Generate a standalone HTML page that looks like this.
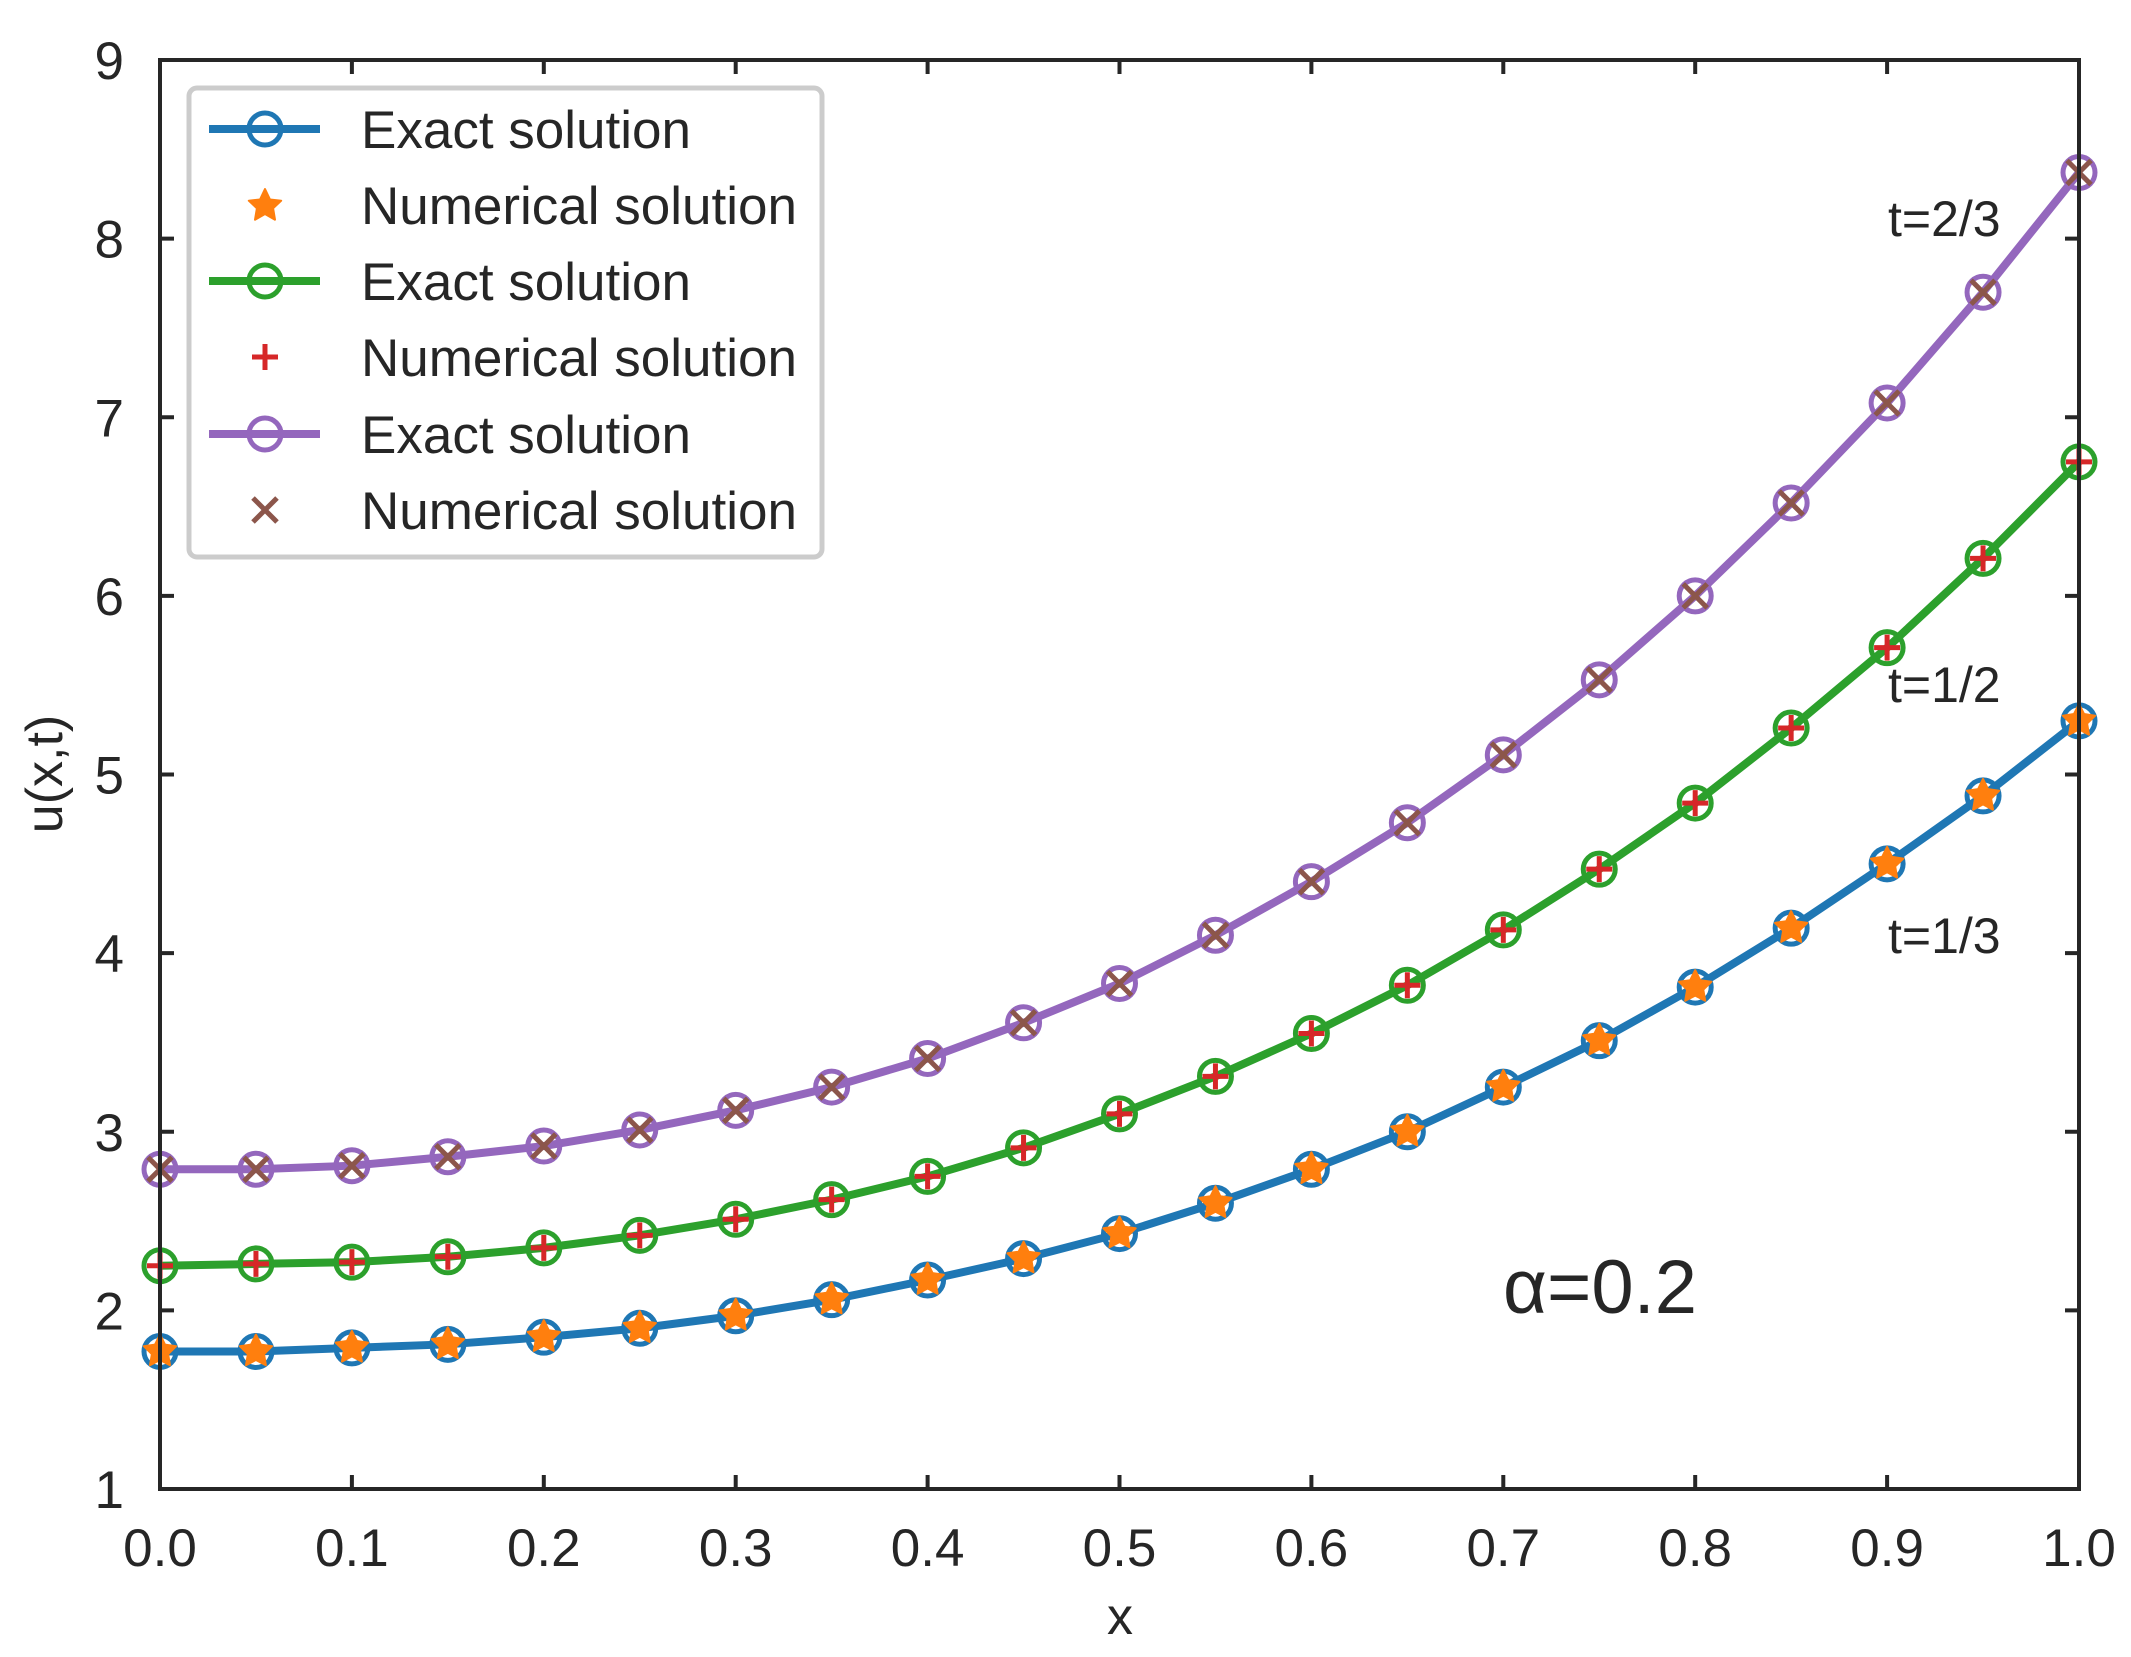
<!DOCTYPE html>
<html><head><meta charset="utf-8"><style>
html,body{margin:0;padding:0;background:#fff;}
svg{display:block;font-family:"Liberation Sans",Arial,sans-serif;}
</style></head><body>
<svg id="chart" width="2131" height="1657" viewBox="0 0 2131 1657" xmlns="http://www.w3.org/2000/svg">
<g id="marks"></g>
<g id="axes"></g>
</svg>
<script>
const xValues=[0,0.05,0.1,0.15,0.2,0.25,0.3,0.35,0.4,0.45,0.5,0.55,0.6,0.65,0.7,0.75,0.8,0.85,0.9,0.95,1.0];
const seriesT13=[1.77,1.77,1.79,1.81,1.85,1.90,1.97,2.06,2.17,2.29,2.43,2.60,2.79,3.00,3.25,3.51,3.81,4.14,4.50,4.88,5.30];
const seriesT12=[2.25,2.26,2.27,2.30,2.35,2.42,2.51,2.62,2.75,2.91,3.10,3.31,3.55,3.82,4.13,4.47,4.84,5.26,5.71,6.21,6.75];
const seriesT23=[2.79,2.79,2.81,2.86,2.92,3.01,3.12,3.25,3.41,3.61,3.83,4.10,4.40,4.73,5.11,5.53,6.00,6.52,7.08,7.70,8.37];
const xTicks=[0,0.1,0.2,0.3,0.4,0.5,0.6,0.7,0.8,0.9,1.0];
const xTickLabels=["0.0","0.1","0.2","0.3","0.4","0.5","0.6","0.7","0.8","0.9","1.0"];
const yTicks=[1,2,3,4,5,6,7,8,9];
const yTickLabels=["1","2","3","4","5","6","7","8","9"];

const L=160,R=2079,T=60,B=1489;
const sx=v=>L+(v-0)/(1-0)*(R-L);
const sy=v=>B-(v-1)/(9-1)*(B-T);
const NS="http://www.w3.org/2000/svg";
const marks=document.getElementById('marks'), axes=document.getElementById('axes');
function mk(tag,attrs,parent){const e=document.createElementNS(NS,tag);for(const k in attrs)e.setAttribute(k,attrs[k]);parent.appendChild(e);return e;}
function starPts(cx,cy,r){let p=[];for(let i=0;i<10;i++){const a=-Math.PI/2+i*Math.PI/5;const rr=i%2?r*0.5:r;p.push((cx+rr*Math.cos(a)).toFixed(1)+','+(cy+rr*Math.sin(a)).toFixed(1));}return p.join(' ');}
function drawNum(g,kind,cx,cy,col){
 if(kind==='star'){const s=mk('polygon',{points:starPts(cx,cy,17),fill:col,stroke:col,'stroke-width':2,'stroke-linejoin':'round'},g);}
 else if(kind==='plus'){const s=mk('path',{d:`M${cx-13},${cy}H${cx+13}M${cx},${cy-13}V${cy+13}`,stroke:col,'stroke-width':5,fill:'none'},g);}
 else {const s=mk('path',{d:`M${cx-12},${cy-12}L${cx+12},${cy+12}M${cx-12},${cy+12}L${cx+12},${cy-12}`,stroke:col,'stroke-width':5,fill:'none'},g);}
}
const series=[[seriesT13,'#1f77b4','#ff7f0e','star','t-1-3'],[seriesT12,'#2ca02c','#d62728','plus','t-1-2'],[seriesT23,'#9467bd','#8c564b','cross','t-2-3']];
series.forEach(([vals,lc,mc,kind,nm])=>{
 const g=mk('g',{},marks);
 
 
 const pl=mk('polyline',{points:vals.map((v,i)=>sx(xValues[i])+','+sy(v)).join(' '),fill:'none',stroke:lc,'stroke-width':8,'stroke-linejoin':'round'},g);
 
 
 vals.forEach((v,i)=>{const c=mk('circle',{cx:sx(xValues[i]),cy:sy(v),r:16,fill:'none',stroke:lc,'stroke-width':5},g);
  
  });
 vals.forEach((v,i)=>drawNum(g,kind,sx(xValues[i]),sy(v),mc));
});
const fr=mk('rect',{x:L,y:T,width:R-L,height:B-T,fill:'none',stroke:'#262626','stroke-width':4},axes);


xTicks.forEach((v,i)=>{
 mk('path',{d:`M${sx(v)},${B}V${B-14}M${sx(v)},${T}V${T+14}`,stroke:'#262626','stroke-width':4},axes);
 const t=mk('text',{x:sx(v),y:1566,'font-size':53,'text-anchor':'middle',fill:'#262626'},axes);t.textContent=xTickLabels[i];
 
 
});
yTicks.forEach((v,i)=>{
 mk('path',{d:`M${L},${sy(v)}H${L+14}M${R},${sy(v)}H${R-14}`,stroke:'#262626','stroke-width':4},axes);
 const t=mk('text',{x:124,y:sy(v)+19,'font-size':53,'text-anchor':'end',fill:'#262626'},axes);t.textContent=yTickLabels[i];
 
 
});
</script>
<svg style="position:absolute;left:0;top:0" width="2131" height="1657">
<text x="1120" y="1634" font-size="52" text-anchor="middle" fill="#262626" font-family="Liberation Sans, sans-serif">x</text>
<text transform="translate(62,774) rotate(-90)" font-size="52" text-anchor="middle" fill="#262626" font-family="Liberation Sans, sans-serif">u(x,t)</text>
<text x="1888" y="236" font-size="50" fill="#262626" font-family="Liberation Sans, sans-serif">t=2/3</text>
<text x="1888" y="702" font-size="50" fill="#262626" font-family="Liberation Sans, sans-serif">t=1/2</text>
<text x="1888" y="953" font-size="50" fill="#262626" font-family="Liberation Sans, sans-serif">t=1/3</text>
<text x="1503" y="1313" font-size="76" fill="#262626" font-family="Liberation Sans, sans-serif">α=0.2</text>
<g font-family="Liberation Sans, sans-serif" font-size="53" fill="#262626">
<rect x="189" y="88" width="633" height="469" rx="8" fill="#fff" stroke="#cccccc" stroke-width="5"/>
<g><line x1="209" y1="129" x2="320" y2="129" stroke="#1f77b4" stroke-width="8"/><circle cx="265" cy="129" r="16" fill="none" stroke="#1f77b4" stroke-width="5"/><text x="361" y="148">Exact solution</text></g>
<g><polygon points="265,189 270,199.5 281.2,200.7 273.1,208.3 275,219.7 265,214 255,219.7 256.9,208.3 248.8,200.7 260,199.5" fill="#ff7f0e" stroke="#ff7f0e" stroke-width="2" stroke-linejoin="round"/><text x="361" y="224">Numerical solution</text></g>
<g><line x1="209" y1="281" x2="320" y2="281" stroke="#2ca02c" stroke-width="8"/><circle cx="265" cy="281" r="16" fill="none" stroke="#2ca02c" stroke-width="5"/><text x="361" y="300">Exact solution</text></g>
<g><path d="M252,357H278M265,344V370" stroke="#d62728" stroke-width="5"/><text x="361" y="376">Numerical solution</text></g>
<g><line x1="209" y1="434" x2="320" y2="434" stroke="#9467bd" stroke-width="8"/><circle cx="265" cy="434" r="16" fill="none" stroke="#9467bd" stroke-width="5"/><text x="361" y="453">Exact solution</text></g>
<g><path d="M253,498L277,522M253,522L277,498" stroke="#8c564b" stroke-width="5"/><text x="361" y="529">Numerical solution</text></g>
</g>
</svg>
</body></html>
